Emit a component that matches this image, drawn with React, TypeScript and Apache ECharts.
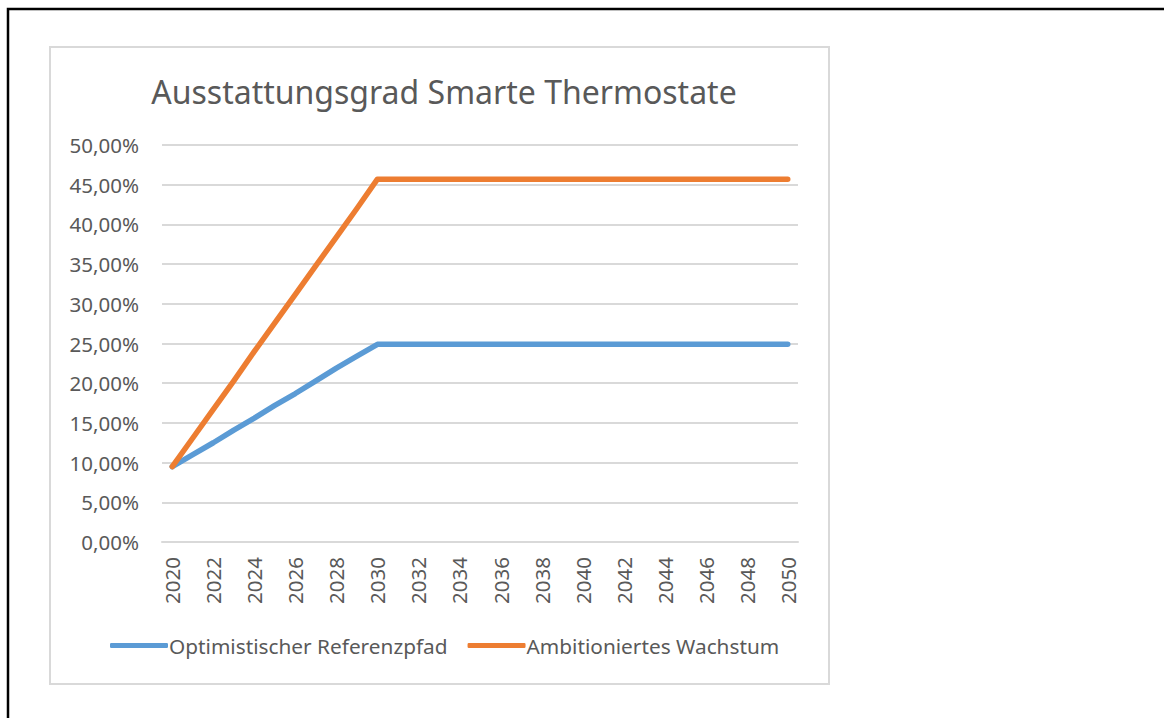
import React, { useEffect, useRef } from "react";
import * as echarts from "echarts";

const years: string[] = [];
for (let y = 2020; y <= 2050; y++) years.push(String(y));

const referenzpfad = [
  9.5, 11.0, 12.5, 14.1, 15.6, 17.2, 18.7, 20.3, 21.9, 23.4, 24.9,
  24.9, 24.9, 24.9, 24.9, 24.9, 24.9, 24.9, 24.9, 24.9, 24.9,
  24.9, 24.9, 24.9, 24.9, 24.9, 24.9, 24.9, 24.9, 24.9, 24.9,
];
const ambitioniert = [
  9.5, 13.1, 16.7, 20.3, 24.0, 27.6, 31.2, 34.8, 38.4, 42.0, 45.7,
  45.7, 45.7, 45.7, 45.7, 45.7, 45.7, 45.7, 45.7, 45.7, 45.7,
  45.7, 45.7, 45.7, 45.7, 45.7, 45.7, 45.7, 45.7, 45.7, 45.7,
];
const seriesNames = ["Optimistischer Referenzpfad", "Ambitioniertes Wachstum"];
const title = "Ausstattungsgrad Smarte Thermostate";

const FONT = "'Noto Sans', 'Open Sans', sans-serif";
const TEXT = "#595959";

export default function App() {
  const ref = useRef<HTMLDivElement>(null);
  useEffect(() => {
    if (!ref.current) return;
    const chart = echarts.init(ref.current, undefined, { renderer: "svg" });
    chart.setOption({
      animation: false,
      backgroundColor: "#ffffff",
      title: {
        text: title,
        left: 439,
        textAlign: "center",
        top: 70,
        textStyle: { fontFamily: FONT, fontSize: 32, fontWeight: "normal", color: TEXT },
      },
      graphic: [
        {
          type: "rect",
          shape: { x: 8, y: 9, width: 1300, height: 900 },
          style: { fill: "none", stroke: "#000", lineWidth: 2.5 },
          silent: true,
        },
        {
          type: "rect",
          shape: { x: 50, y: 47, width: 779, height: 637 },
          style: { fill: "none", stroke: "#D9D9D9", lineWidth: 2 },
          silent: true,
        },
      ],
      grid: { left: 162, right: 366, top: 145, bottom: 176, containLabel: false },
      xAxis: {
        type: "category",
        data: years,
        boundaryGap: true,
        axisTick: { show: false },
        axisLine: { lineStyle: { color: "#D9D9D9", width: 2 } },
        axisLabel: {
          rotate: 90,
          interval: 1,
          margin: 15,
          fontFamily: FONT,
          fontSize: 20.5,
          color: TEXT,
        },
      },
      yAxis: {
        type: "value",
        min: 0,
        max: 50,
        interval: 5,
        axisLine: { show: false },
        axisTick: { show: false },
        splitLine: { lineStyle: { color: "#D9D9D9", width: 2 } },
        axisLabel: {
          margin: 23,
          fontFamily: FONT,
          fontSize: 20.5,
          color: TEXT,
          formatter: (v: number) => v.toFixed(2).replace(".", ",") + "%",
        },
      },
      legend: {
        left: 105,
        top: 630,
        icon: "roundRect",
        itemWidth: 58,
        itemHeight: 5,
        itemGap: 20,
        textStyle: { fontFamily: FONT, fontSize: 20.8, color: TEXT, padding: [0, 0, 0, -4] },
        data: seriesNames,
      },
      series: [
        {
          name: seriesNames[0],
          type: "line",
          data: referenzpfad,
          symbol: "none",
          color: "#5B9BD5",
          lineStyle: { width: 5.5, color: "#5B9BD5", cap: "round", join: "round" },
        },
        {
          name: seriesNames[1],
          type: "line",
          data: ambitioniert,
          symbol: "none",
          color: "#ED7D31",
          lineStyle: { width: 5.5, color: "#ED7D31", cap: "round", join: "round" },
        },
      ],
    });
    return () => chart.dispose();
  }, []);
  return (
    <div
      ref={ref}
      style={{ position: "absolute", left: 0, top: 0, width: 1164, height: 718, background: "#fff" }}
    />
  );
}
